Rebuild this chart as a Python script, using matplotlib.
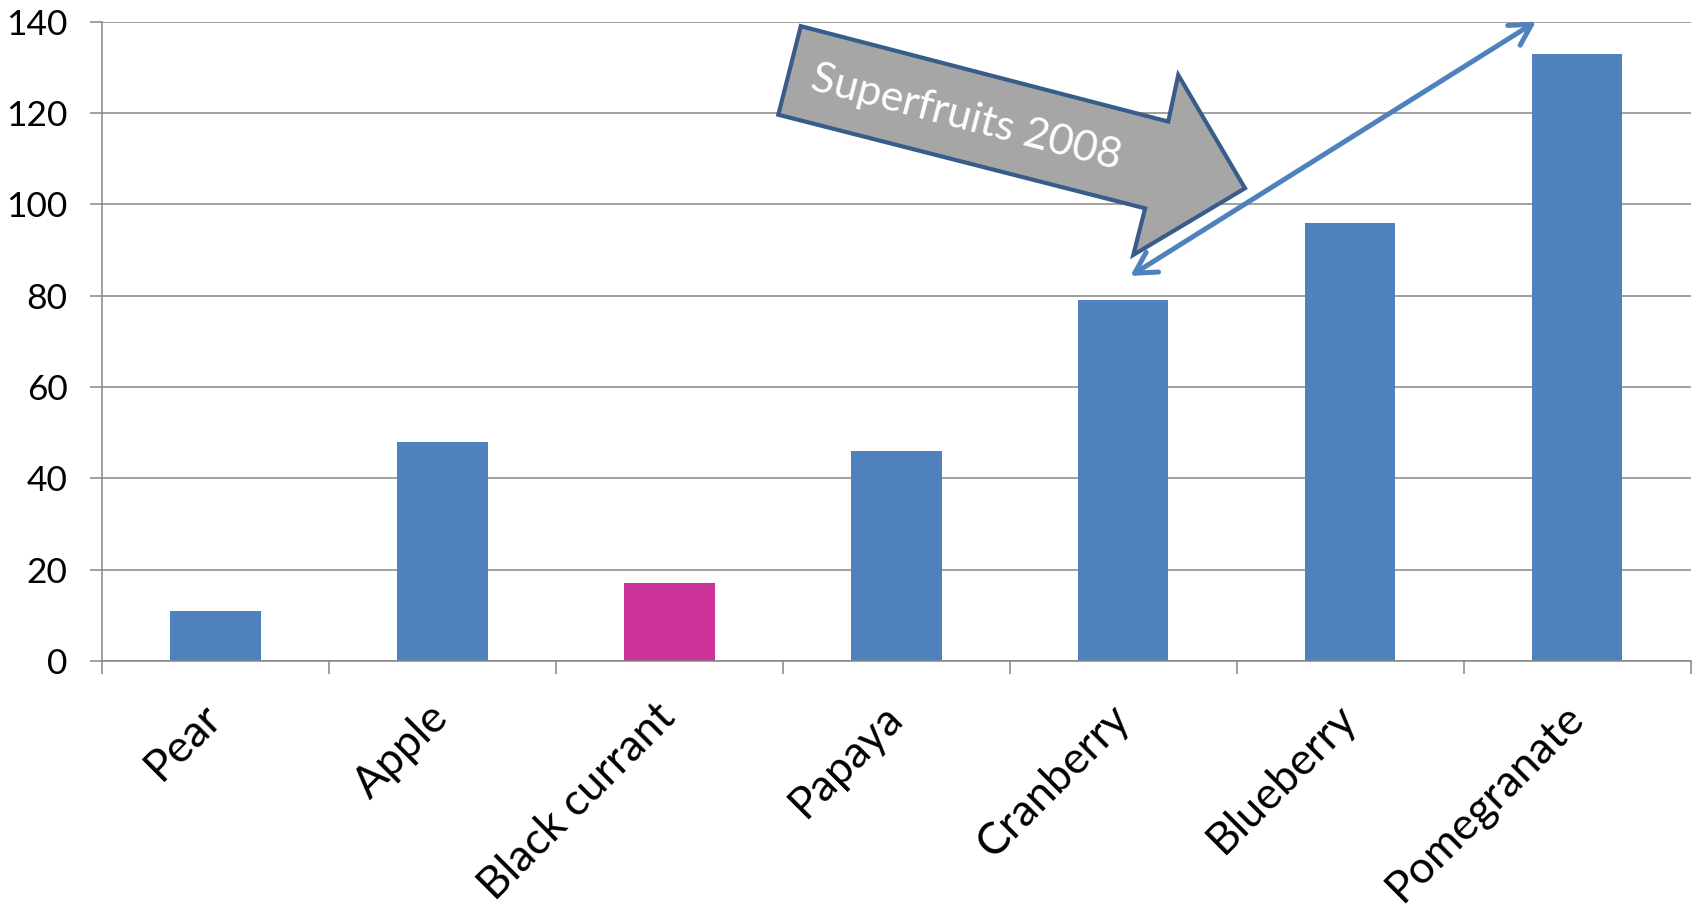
import matplotlib
matplotlib.use("Agg")
import matplotlib.pyplot as plt
from matplotlib.patches import Polygon, FancyArrowPatch
from matplotlib.ticker import FixedLocator, NullFormatter

# Antioxidant capacity by fruit
fruits = ["Pear", "Apple", "Black currant", "Papaya", "Cranberry", "Blueberry", "Pomegranate"]
values = [11, 48, 17, 46, 79, 96, 133]
highlight = "Black currant"

BLUE = "#4F81BD"
MAGENTA = "#CC3399"
GRID = "#868686"

plt.rcParams["font.family"] = ["Lato", "DejaVu Sans"]

fig = plt.figure(figsize=(16.96, 9.10), dpi=100)
ax = fig.add_axes([0.05997, 0.2737, 0.9368, 0.7026])

x = list(range(len(fruits)))
colors = [MAGENTA if f == highlight else BLUE for f in fruits]
ax.bar(x, values, width=0.4, color=colors, zorder=2)

ax.set_xlim(-0.5, len(fruits) - 0.5)
ax.set_ylim(0, 140)
ax.set_yticks(range(0, 141, 20))
ax.yaxis.grid(True, color=GRID, linewidth=1.1, zorder=0)
ax.set_axisbelow(True)

for side in ("top", "right"):
    ax.spines[side].set_visible(False)
for side in ("left", "bottom"):
    ax.spines[side].set_color(GRID)
    ax.spines[side].set_linewidth(1.1)

ax.tick_params(axis="y", length=8.5, width=1.1, color=GRID, pad=16, labelsize=25.5)

# category labels centred, tick marks between categories
ax.set_xticks(x)
ax.set_xticklabels(fruits, rotation=45, ha="right", va="center",
                   rotation_mode="anchor", fontsize=32)
ax.tick_params(axis="x", which="major", length=0, pad=36)
ax.xaxis.set_minor_locator(FixedLocator([i - 0.5 for i in range(len(fruits) + 1)]))
ax.xaxis.set_minor_formatter(NullFormatter())
ax.tick_params(axis="x", which="minor", length=9, width=1.1, color=GRID)

# "Superfruits 2008" block arrow
block = [(2.580, 139.0), (4.199, 118.1), (4.243, 128.3), (4.537, 103.5),
         (4.045, 88.9), (4.097, 99.1), (2.481, 119.6)]
ax.add_patch(Polygon(block, closed=True, facecolor="#A6A6A6", edgecolor="#385D8A",
                     linewidth=3, joinstyle="miter", zorder=4, clip_on=False))
ax.text(3.31, 119.0, "Superfruits 2008", color="white", fontsize=31,
        rotation=-14.6, rotation_mode="anchor", ha="center", va="center", zorder=5)

# double-headed trend arrow
ax.add_patch(FancyArrowPatch((4.032, 84.3), (5.819, 140.0),
                             arrowstyle="<->,head_length=0.75,head_width=0.42",
                             mutation_scale=20, color=BLUE, linewidth=3.6,
                             capstyle="round", shrinkA=0, shrinkB=0, zorder=5,
                             clip_on=False))

fig.savefig("out.png", dpi=100)
